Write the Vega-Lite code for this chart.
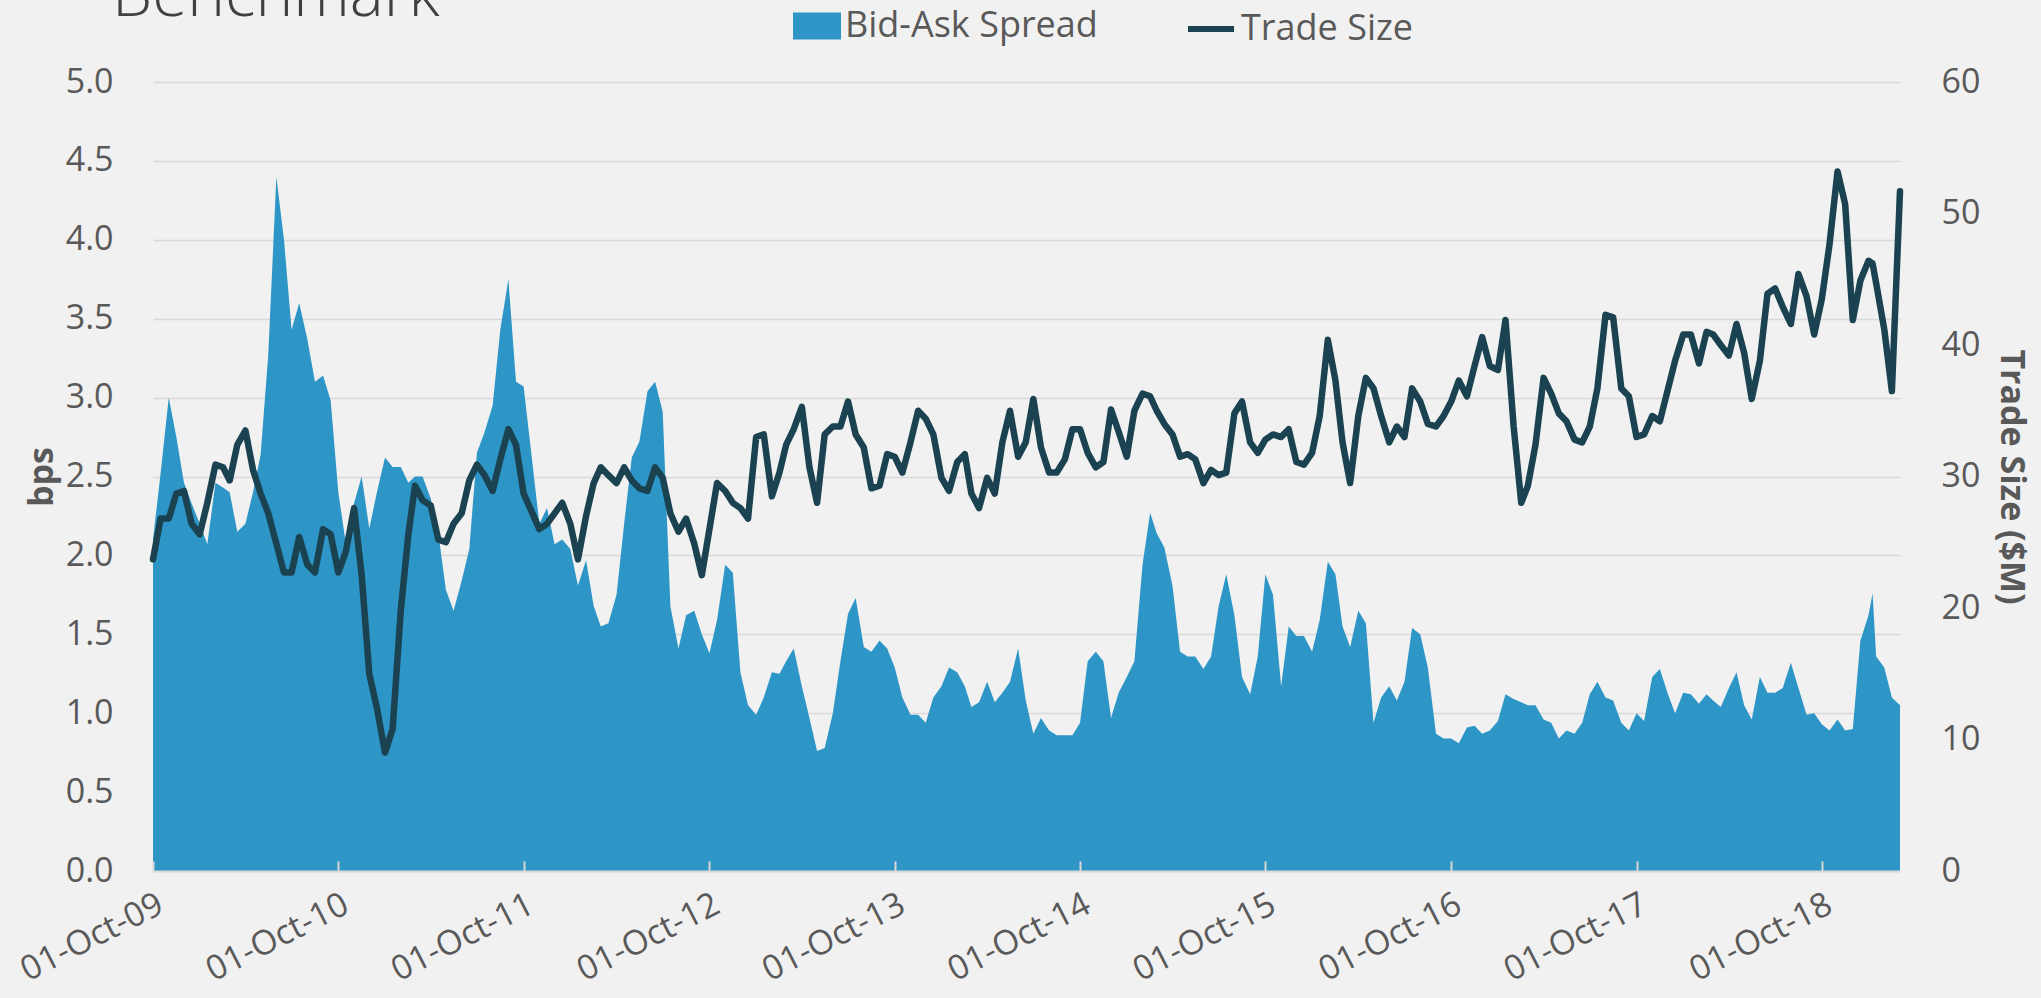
{
  "$schema": "https://vega.github.io/schema/vega-lite/v6.json",
  "width": 1747,
  "height": 789,
  "autosize": {"type": "none"},
  "padding": {"left": 153, "top": 82, "right": 141, "bottom": 127},
  "background": "#f1f1f1",
  "config": {"view": {"stroke": null}, "font": "Open Sans"},
  "title": {"text": "Benchmark", "anchor": "start", "frame": "group", "orient": "top", "fontSize": 64, "fontWeight": 300, "color": "#404040", "font": "Open Sans", "baseline": "alphabetic", "offset": -78, "dx": -41},
  "data": {"values": [
    {"d":"2009-10-01","s":2.10,"t":23.7},{"d":"2009-10-16","s":2.52,"t":26.8},{"d":"2009-11-01","s":3.00,"t":26.8},{"d":"2009-11-16","s":2.75,"t":28.7},
    {"d":"2009-12-01","s":2.46,"t":28.9},{"d":"2009-12-16","s":2.33,"t":26.4},{"d":"2010-01-01","s":2.20,"t":25.6},{"d":"2010-01-16","s":2.07,"t":28.0},
    {"d":"2010-02-01","s":2.46,"t":30.9},{"d":"2010-02-16","s":2.43,"t":30.7},{"d":"2010-03-01","s":2.40,"t":29.7},{"d":"2010-03-16","s":2.15,"t":32.4},
    {"d":"2010-04-01","s":2.20,"t":33.5},{"d":"2010-04-16","s":2.40,"t":30.5},{"d":"2010-05-01","s":2.64,"t":28.7},{"d":"2010-05-16","s":3.27,"t":27.2},
    {"d":"2010-06-01","s":4.40,"t":24.9},{"d":"2010-06-16","s":4.00,"t":22.7},{"d":"2010-07-01","s":3.43,"t":22.7},{"d":"2010-07-16","s":3.60,"t":25.4},
    {"d":"2010-08-01","s":3.37,"t":23.3},{"d":"2010-08-16","s":3.10,"t":22.7},{"d":"2010-09-01","s":3.14,"t":26.0},{"d":"2010-09-16","s":2.98,"t":25.6},
    {"d":"2010-10-01","s":2.40,"t":22.7},{"d":"2010-10-16","s":2.07,"t":24.3},{"d":"2010-11-01","s":2.33,"t":27.6},{"d":"2010-11-16","s":2.50,"t":22.5},
    {"d":"2010-12-01","s":2.17,"t":15.0},{"d":"2010-12-16","s":2.40,"t":12.4},{"d":"2011-01-01","s":2.62,"t":9.0},{"d":"2011-01-16","s":2.56,"t":10.8},
    {"d":"2011-02-01","s":2.56,"t":19.8},{"d":"2011-02-16","s":2.46,"t":25.6},{"d":"2011-03-01","s":2.50,"t":29.3},{"d":"2011-03-16","s":2.50,"t":28.2},
    {"d":"2011-04-01","s":2.36,"t":27.8},{"d":"2011-04-16","s":2.14,"t":25.2},{"d":"2011-05-01","s":1.78,"t":25.0},{"d":"2011-05-16","s":1.65,"t":26.4},
    {"d":"2011-06-01","s":1.84,"t":27.2},{"d":"2011-06-16","s":2.04,"t":29.7},{"d":"2011-07-01","s":2.65,"t":30.9},{"d":"2011-07-16","s":2.78,"t":30.1},
    {"d":"2011-08-01","s":2.95,"t":28.9},{"d":"2011-08-16","s":3.43,"t":31.3},{"d":"2011-09-01","s":3.75,"t":33.6},{"d":"2011-09-16","s":3.10,"t":32.4},
    {"d":"2011-10-01","s":3.07,"t":28.7},{"d":"2011-10-16","s":2.65,"t":27.4},{"d":"2011-11-01","s":2.20,"t":26.0},{"d":"2011-11-16","s":2.30,"t":26.4},
    {"d":"2011-12-01","s":2.07,"t":27.2},{"d":"2011-12-16","s":2.10,"t":28.0},{"d":"2012-01-01","s":2.04,"t":26.4},{"d":"2012-01-16","s":1.81,"t":23.7},
    {"d":"2012-02-01","s":1.97,"t":27.0},{"d":"2012-02-16","s":1.68,"t":29.5},{"d":"2012-03-01","s":1.55,"t":30.7},{"d":"2012-03-16","s":1.57,"t":30.1},
    {"d":"2012-04-01","s":1.75,"t":29.5},{"d":"2012-04-16","s":2.20,"t":30.7},{"d":"2012-05-01","s":2.62,"t":29.7},{"d":"2012-05-16","s":2.72,"t":29.1},
    {"d":"2012-06-01","s":3.04,"t":28.9},{"d":"2012-06-16","s":3.10,"t":30.7},{"d":"2012-07-01","s":2.91,"t":29.9},{"d":"2012-07-16","s":1.68,"t":27.2},
    {"d":"2012-08-01","s":1.41,"t":25.8},{"d":"2012-08-16","s":1.62,"t":26.8},{"d":"2012-09-01","s":1.65,"t":24.9},{"d":"2012-09-16","s":1.50,"t":22.5},
    {"d":"2012-10-01","s":1.38,"t":26.0},{"d":"2012-10-16","s":1.59,"t":29.5},{"d":"2012-11-01","s":1.94,"t":28.9},{"d":"2012-11-16","s":1.89,"t":28.0},
    {"d":"2012-12-01","s":1.26,"t":27.6},{"d":"2012-12-16","s":1.05,"t":26.8},{"d":"2013-01-01","s":0.99,"t":33.0},{"d":"2013-01-16","s":1.10,"t":33.2},
    {"d":"2013-02-01","s":1.26,"t":28.5},{"d":"2013-02-16","s":1.25,"t":30.3},{"d":"2013-03-01","s":1.33,"t":32.4},{"d":"2013-03-16","s":1.41,"t":33.6},
    {"d":"2013-04-01","s":1.17,"t":35.3},{"d":"2013-04-16","s":0.97,"t":30.7},{"d":"2013-05-01","s":0.76,"t":28.0},{"d":"2013-05-16","s":0.78,"t":33.2},
    {"d":"2013-06-01","s":1.00,"t":33.8},{"d":"2013-06-16","s":1.33,"t":33.8},{"d":"2013-07-01","s":1.63,"t":35.7},{"d":"2013-07-16","s":1.73,"t":33.2},
    {"d":"2013-08-01","s":1.42,"t":32.2},{"d":"2013-08-16","s":1.39,"t":29.1},{"d":"2013-09-01","s":1.46,"t":29.3},{"d":"2013-09-16","s":1.41,"t":31.7},
    {"d":"2013-10-01","s":1.29,"t":31.5},{"d":"2013-10-16","s":1.10,"t":30.3},{"d":"2013-11-01","s":0.99,"t":32.6},{"d":"2013-11-16","s":0.99,"t":35.0},
    {"d":"2013-12-01","s":0.94,"t":34.4},{"d":"2013-12-16","s":1.10,"t":33.2},{"d":"2014-01-01","s":1.17,"t":29.9},{"d":"2014-01-16","s":1.29,"t":28.9},
    {"d":"2014-02-01","s":1.26,"t":31.1},{"d":"2014-02-16","s":1.17,"t":31.7},{"d":"2014-03-01","s":1.04,"t":28.7},{"d":"2014-03-16","s":1.07,"t":27.6},
    {"d":"2014-04-01","s":1.20,"t":29.9},{"d":"2014-04-16","s":1.07,"t":28.7},{"d":"2014-05-01","s":1.13,"t":32.6},{"d":"2014-05-16","s":1.20,"t":35.0},
    {"d":"2014-06-01","s":1.41,"t":31.5},{"d":"2014-06-16","s":1.08,"t":32.6},{"d":"2014-07-01","s":0.87,"t":35.9},{"d":"2014-07-16","s":0.97,"t":32.2},
    {"d":"2014-08-01","s":0.89,"t":30.3},{"d":"2014-08-16","s":0.86,"t":30.3},{"d":"2014-09-01","s":0.86,"t":31.3},{"d":"2014-09-16","s":0.86,"t":33.6},
    {"d":"2014-10-01","s":0.94,"t":33.6},{"d":"2014-10-16","s":1.33,"t":31.8},{"d":"2014-11-01","s":1.39,"t":30.7},{"d":"2014-11-16","s":1.33,"t":31.1},
    {"d":"2014-12-01","s":0.97,"t":35.1},{"d":"2014-12-16","s":1.13,"t":33.4},{"d":"2015-01-01","s":1.23,"t":31.5},{"d":"2015-01-16","s":1.33,"t":35.0},
    {"d":"2015-02-01","s":1.94,"t":36.3},{"d":"2015-02-16","s":2.27,"t":36.1},{"d":"2015-03-01","s":2.14,"t":35.0},{"d":"2015-03-16","s":2.05,"t":34.0},
    {"d":"2015-04-01","s":1.81,"t":33.2},{"d":"2015-04-16","s":1.39,"t":31.5},{"d":"2015-05-01","s":1.36,"t":31.7},{"d":"2015-05-16","s":1.36,"t":31.3},
    {"d":"2015-06-01","s":1.28,"t":29.5},{"d":"2015-06-16","s":1.36,"t":30.5},{"d":"2015-07-01","s":1.68,"t":30.1},{"d":"2015-07-16","s":1.88,"t":30.3},
    {"d":"2015-08-01","s":1.62,"t":34.8},{"d":"2015-08-16","s":1.23,"t":35.7},{"d":"2015-09-01","s":1.12,"t":32.6},{"d":"2015-09-16","s":1.36,"t":31.8},
    {"d":"2015-10-01","s":1.88,"t":32.8},{"d":"2015-10-16","s":1.75,"t":33.2},{"d":"2015-11-01","s":1.17,"t":33.0},{"d":"2015-11-16","s":1.55,"t":33.6},
    {"d":"2015-12-01","s":1.49,"t":31.1},{"d":"2015-12-16","s":1.49,"t":30.9},{"d":"2016-01-01","s":1.39,"t":31.8},{"d":"2016-01-16","s":1.59,"t":34.6},
    {"d":"2016-02-01","s":1.96,"t":40.4},{"d":"2016-02-16","s":1.88,"t":37.3},{"d":"2016-03-01","s":1.55,"t":32.6},{"d":"2016-03-16","s":1.42,"t":29.5},
    {"d":"2016-04-01","s":1.65,"t":34.6},{"d":"2016-04-16","s":1.57,"t":37.5},{"d":"2016-05-01","s":0.94,"t":36.7},{"d":"2016-05-16","s":1.10,"t":34.6},
    {"d":"2016-06-01","s":1.17,"t":32.6},{"d":"2016-06-16","s":1.08,"t":33.8},{"d":"2016-07-01","s":1.20,"t":33.0},{"d":"2016-07-16","s":1.54,"t":36.7},
    {"d":"2016-08-01","s":1.50,"t":35.7},{"d":"2016-08-16","s":1.29,"t":34.0},{"d":"2016-09-01","s":0.87,"t":33.8},{"d":"2016-09-16","s":0.84,"t":34.6},
    {"d":"2016-10-01","s":0.84,"t":35.7},{"d":"2016-10-16","s":0.81,"t":37.3},{"d":"2016-11-01","s":0.91,"t":36.1},{"d":"2016-11-16","s":0.92,"t":38.4},
    {"d":"2016-12-01","s":0.87,"t":40.6},{"d":"2016-12-16","s":0.89,"t":38.4},{"d":"2017-01-01","s":0.95,"t":38.1},{"d":"2017-01-16","s":1.12,"t":41.9},
    {"d":"2017-02-01","s":1.09,"t":33.8},{"d":"2017-02-16","s":1.07,"t":28.0},{"d":"2017-03-01","s":1.05,"t":29.3},{"d":"2017-03-16","s":1.05,"t":32.4},
    {"d":"2017-04-01","s":0.96,"t":37.5},{"d":"2017-04-16","s":0.94,"t":36.3},{"d":"2017-05-01","s":0.84,"t":34.8},{"d":"2017-05-16","s":0.89,"t":34.2},
    {"d":"2017-06-01","s":0.87,"t":32.8},{"d":"2017-06-16","s":0.94,"t":32.6},{"d":"2017-07-01","s":1.12,"t":33.8},{"d":"2017-07-16","s":1.20,"t":36.7},
    {"d":"2017-08-01","s":1.10,"t":42.3},{"d":"2017-08-16","s":1.08,"t":42.1},{"d":"2017-09-01","s":0.94,"t":36.7},{"d":"2017-09-16","s":0.89,"t":36.1},
    {"d":"2017-10-01","s":1.00,"t":33.0},{"d":"2017-10-16","s":0.95,"t":33.2},{"d":"2017-11-01","s":1.23,"t":34.6},{"d":"2017-11-16","s":1.28,"t":34.2},
    {"d":"2017-12-01","s":1.13,"t":36.5},{"d":"2017-12-16","s":1.00,"t":38.8},{"d":"2018-01-01","s":1.13,"t":40.8},{"d":"2018-01-16","s":1.12,"t":40.8},
    {"d":"2018-02-01","s":1.06,"t":38.6},{"d":"2018-02-16","s":1.12,"t":41.0},{"d":"2018-03-01","s":1.08,"t":40.8},{"d":"2018-03-16","s":1.04,"t":40.0},
    {"d":"2018-04-01","s":1.16,"t":39.2},{"d":"2018-04-16","s":1.26,"t":41.6},{"d":"2018-05-01","s":1.05,"t":39.4},{"d":"2018-05-16","s":0.96,"t":35.9},
    {"d":"2018-06-01","s":1.23,"t":38.8},{"d":"2018-06-16","s":1.13,"t":43.9},{"d":"2018-07-01","s":1.13,"t":44.3},{"d":"2018-07-16","s":1.16,"t":42.9},
    {"d":"2018-08-01","s":1.32,"t":41.6},{"d":"2018-08-16","s":1.16,"t":45.4},{"d":"2018-09-01","s":0.99,"t":43.7},{"d":"2018-09-16","s":1.00,"t":40.8},
    {"d":"2018-10-01","s":0.93,"t":43.5},{"d":"2018-10-16","s":0.89,"t":47.6},{"d":"2018-11-01","s":0.96,"t":53.2},{"d":"2018-11-16","s":0.89,"t":50.7},
    {"d":"2018-12-01","s":0.90,"t":41.9},{"d":"2018-12-16","s":1.46,"t":44.9},{"d":"2019-01-01","s":1.62,"t":46.4},{"d":"2019-01-09","s":1.76,"t":46.2},
    {"d":"2019-01-16","s":1.36,"t":44.7},{"d":"2019-02-01","s":1.29,"t":41.2},{"d":"2019-02-16","s":1.10,"t":36.5},{"d":"2019-03-04","s":1.05,"t":51.7}
  ]},
  "layer": [
    {
      "mark": {"type": "area", "color": "#2E96C7"},
      "encoding": {
        "x": {
          "field": "d", "type": "temporal",
          "scale": {"type": "utc", "domain": [{"year": 2009, "month": 10, "date": 1, "utc": true}, {"year": 2019, "month": 3, "date": 4, "utc": true}]},
          "axis": {
            "title": null,
            "values": [
              {"year": 2009, "month": 10, "date": 1, "utc": true}, {"year": 2010, "month": 10, "date": 1, "utc": true},
              {"year": 2011, "month": 10, "date": 1, "utc": true}, {"year": 2012, "month": 10, "date": 1, "utc": true},
              {"year": 2013, "month": 10, "date": 1, "utc": true}, {"year": 2014, "month": 10, "date": 1, "utc": true},
              {"year": 2015, "month": 10, "date": 1, "utc": true}, {"year": 2016, "month": 10, "date": 1, "utc": true},
              {"year": 2017, "month": 10, "date": 1, "utc": true}, {"year": 2018, "month": 10, "date": 1, "utc": true}
            ],
            "labelExpr": "utcFormat(datum.value, '%d-%b-%y')",
            "labelAngle": -27, "labelAlign": "right", "labelBaseline": "top",
            "labelFontSize": 34, "labelColor": "#595959", "labelFont": "Open Sans",
            "labelOverlap": false, "labelBound": false, "labelFlush": false, "labelLimit": 400,
            "labelPadding": 26,
            "grid": false, "domainColor": "#d9d9d9", "domainWidth": 2,
            "tickColor": "#d9d9d9", "tickSize": -10, "tickWidth": 2, "zindex": 1
          }
        },
        "y": {
          "field": "s", "type": "quantitative",
          "scale": {"domain": [0, 5], "nice": false},
          "axis": {
            "title": "bps", "titleFontSize": 34, "titleFontWeight": "bold", "titleColor": "#595959", "titleFont": "Open Sans", "titlePadding": 6,
            "values": [0, 0.5, 1, 1.5, 2, 2.5, 3, 3.5, 4, 4.5, 5], "format": ".1f",
            "labelFontSize": 34, "labelColor": "#595959", "labelFont": "Open Sans", "labelPadding": 40,
            "domain": false, "ticks": false, "grid": true, "gridColor": "#d9d9d9", "gridWidth": 1.5
          }
        },
        "fill": {
          "datum": "Bid-Ask Spread", "type": "nominal",
          "scale": {"range": ["#2E96C7"]},
          "legend": {
            "orient": "none", "legendX": 640, "legendY": -80, "title": null, "padding": 0,
            "symbolType": "M-1,-0.56H1V0.56H-1Z", "symbolSize": 2304, "symbolStrokeWidth": 0,
            "labelFontSize": 36, "labelColor": "#595959", "labelFont": "Open Sans", "labelOffset": 4, "labelLimit": 500
          }
        }
      }
    },
    {
      "mark": {"type": "line", "strokeWidth": 6.5, "strokeJoin": "round", "strokeCap": "round"},
      "encoding": {
        "x": {"field": "d", "type": "temporal"},
        "y": {
          "field": "t", "type": "quantitative",
          "scale": {"domain": [0, 60], "nice": false},
          "axis": {
            "orient": "right",
            "title": "Trade Size ($M)", "titleFontSize": 34, "titleFontWeight": "bold", "titleColor": "#595959", "titleFont": "Open Sans", "titlePadding": 14,
            "values": [0, 10, 20, 30, 40, 50, 60],
            "labelFontSize": 34, "labelColor": "#595959", "labelFont": "Open Sans", "labelPadding": 41,
            "domain": false, "ticks": false, "grid": false
          }
        },
        "stroke": {
          "datum": "Trade Size", "type": "nominal",
          "scale": {"range": ["#1B4250"]},
          "legend": {
            "orient": "none", "legendX": 1032, "legendY": -79, "title": null, "padding": 0,
            "symbolType": "stroke", "symbolSize": 2116, "symbolStrokeWidth": 6,
            "labelFontSize": 36, "labelColor": "#595959", "labelFont": "Open Sans", "labelOffset": 4, "labelLimit": 500
          }
        }
      }
    }
  ],
  "resolve": {"scale": {"y": "independent"}}
}
